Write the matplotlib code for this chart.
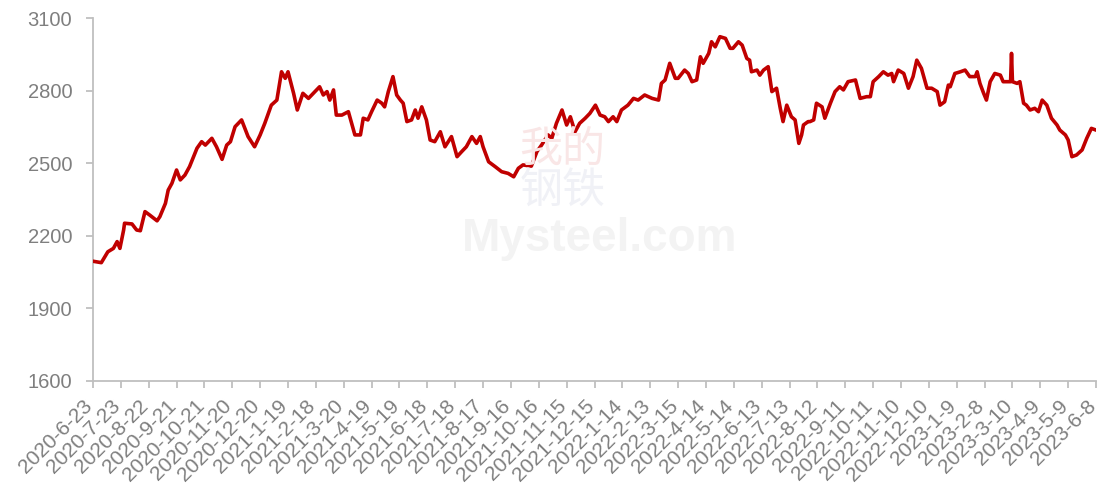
import matplotlib
matplotlib.use('Agg')
import matplotlib.pyplot as plt
import matplotlib.transforms as mtrans
import pandas as pd

# start of the series, everything else is days after it
start_date = '2020-06-23'
end_date = '2023-06-08'

day_offset = [0, 9, 16, 22, 26, 29, 33, 34, 42, 47, 51, 56, 61, 69, 72, 78, 81, 85, 90, 94,
              99, 104, 112, 117, 121, 128, 133, 139, 144, 148, 153, 160, 167, 174, 180, 185,
              192, 198, 203, 207, 210, 216, 220, 226, 232, 244, 248, 252, 255, 259, 262, 268,
              275, 282, 288, 291, 296, 300, 306, 311, 314, 318, 323, 327, 331, 334, 338, 343,
              347, 350, 354, 359, 363, 368, 374, 379, 386, 392, 397, 402, 408, 413, 417, 420,
              426, 433, 440, 447, 453, 458, 463, 472, 478, 483, 490, 494, 499, 505, 510, 514,
              519, 524, 530, 535, 541, 546, 551, 555, 560, 564, 569, 576, 582, 587, 594, 602,
              609, 612, 616, 621, 627, 630, 637, 641, 645, 650, 654, 657, 663, 666, 670, 675,
              681, 686, 689, 695, 699, 704, 707, 709, 715, 718, 722, 727, 731, 736, 740, 743,
              747, 752, 756, 760, 763, 765, 770, 772, 776, 779, 785, 788, 794, 799, 804, 808,
              813, 821, 826, 833, 837, 840, 846, 851, 856, 860, 862, 867, 873, 878, 883, 887,
              892, 898, 903, 909, 912, 917, 921, 923, 928, 934, 939, 944, 950, 952, 955, 959,
              962, 966, 971, 977, 980, 986, 988, 989, 990, 995, 998, 1002, 1005, 1009, 1014,
              1018, 1022, 1027, 1032, 1038, 1041, 1047, 1050, 1054, 1059, 1065, 1070, 1075, 1080]

price = [2095, 2089, 2134, 2148, 2176, 2148, 2224, 2252, 2249, 2224, 2221, 2300, 2286, 2262, 2279,
         2334, 2389, 2417, 2472, 2431, 2451, 2486, 2562, 2589, 2575, 2603, 2568, 2516, 2575, 2589,
         2651, 2679, 2610, 2568, 2617, 2665, 2740, 2761, 2878, 2851, 2878, 2789, 2720, 2789, 2768,
         2816, 2782, 2796, 2761, 2803, 2699, 2699, 2713, 2617, 2617, 2686, 2679, 2713, 2761, 2748,
         2733, 2796, 2858, 2782, 2761, 2748, 2672, 2679, 2720, 2686, 2733, 2679, 2596, 2589, 2630,
         2568, 2610, 2527, 2548, 2568, 2610, 2582, 2610, 2568, 2506, 2486, 2465, 2458, 2444, 2479,
         2493, 2488, 2548, 2575, 2617, 2603, 2665, 2720, 2658, 2692, 2630, 2665, 2686, 2706, 2740,
         2699, 2692, 2672, 2692, 2672, 2720, 2740, 2768, 2761, 2782, 2768, 2761, 2830, 2844, 2913,
         2851, 2851, 2885, 2871, 2837, 2844, 2940, 2913, 2954, 3002, 2981, 3023, 3016, 2975, 2975,
         3002, 2988, 2933, 2926, 2878, 2885, 2864, 2885, 2899, 2796, 2810, 2727, 2672, 2740, 2692,
         2679, 2582, 2617, 2658, 2672, 2672, 2679, 2748, 2733, 2686, 2748, 2796, 2816, 2803, 2837,
         2844, 2768, 2775, 2775, 2837, 2858, 2878, 2864, 2871, 2837, 2885, 2871, 2810, 2858, 2926,
         2892, 2810, 2810, 2796, 2740, 2754, 2823, 2816, 2871, 2878, 2885, 2858, 2858, 2878, 2830,
         2789, 2761, 2837, 2871, 2864, 2837, 2837, 2837, 2954, 2837, 2830, 2837, 2748, 2740, 2720,
         2727, 2713, 2761, 2740, 2686, 2658, 2637, 2617, 2596, 2527, 2534, 2555, 2603, 2644, 2637]

tick_labels = ['2020-6-23', '2020-7-23', '2020-8-22', '2020-9-21', '2020-10-21', '2020-11-20',
               '2020-12-20', '2021-1-19', '2021-2-18', '2021-3-20', '2021-4-19', '2021-5-19',
               '2021-6-18', '2021-7-18', '2021-8-17', '2021-9-16', '2021-10-16', '2021-11-15',
               '2021-12-15', '2022-1-14', '2022-2-13', '2022-3-15', '2022-4-14', '2022-5-14',
               '2022-6-13', '2022-7-13', '2022-8-12', '2022-9-11', '2022-10-11', '2022-11-10',
               '2022-12-10', '2023-1-9', '2023-2-8', '2023-3-10', '2023-4-9', '2023-5-9', '2023-6-8']

y_ticks = [1600, 1900, 2200, 2500, 2800, 3100]

dates = pd.Timestamp(start_date) + pd.to_timedelta(day_offset, unit='D')
tick_dates = pd.to_datetime(tick_labels, format='%Y-%m-%d')

fig = plt.figure(figsize=(10.99, 4.88), dpi=100)
ax = fig.add_axes([0.0846, 0.2193, 0.9127, 0.7437])

grey = '#BFBFBF'
label_grey = '#7F7F7F'

# faint watermark behind the line
cjk = ['Noto Sans CJK SC', 'DejaVu Sans']
fig.text(0.512, 0.692, '我的', fontsize=31, color='#F9E6E6', ha='center', va='center',
         family=cjk, zorder=0)
fig.text(0.512, 0.607, '钢铁', fontsize=31, color='#F0F1F6', ha='center', va='center',
         family=cjk, zorder=0)
fig.text(0.546, 0.51, 'Mysteel.com', fontsize=33, color='#F3F3F3', ha='center', va='center',
         family='Liberation Sans', fontweight='bold', zorder=0)

ax.plot(dates, price, color='#C00000', linewidth=2.6, solid_joinstyle='round', zorder=3)

ax.set_xlim(pd.Timestamp(start_date), pd.Timestamp(end_date))
ax.set_ylim(1600, 3100)
ax.set_yticks(y_ticks)
ax.set_xticks(tick_dates)
ax.set_xticklabels(tick_labels, rotation=45, ha='right', rotation_mode='anchor')

ax.patch.set_alpha(0)
for side in ['top', 'right']:
    ax.spines[side].set_visible(False)
for side in ['left', 'bottom']:
    ax.spines[side].set_color(grey)
    ax.spines[side].set_linewidth(1.3)

ax.tick_params(axis='both', colors=grey, width=1.3, length=5, direction='out')
ax.tick_params(axis='y', labelcolor=label_grey, labelsize=14.5, pad=10)
ax.tick_params(axis='x', labelcolor=label_grey, labelsize=15, pad=3)

# nudge the slanted date labels a little down and left, like the original
shift = mtrans.ScaledTranslation(-0.1, -0.04, fig.dpi_scale_trans)
for lab in ax.get_xticklabels():
    lab.set_family('Liberation Sans')
    lab.set_transform(lab.get_transform() + shift)
for lab in ax.get_yticklabels():
    lab.set_family('Liberation Sans')

fig.savefig('out.png', dpi=100)
